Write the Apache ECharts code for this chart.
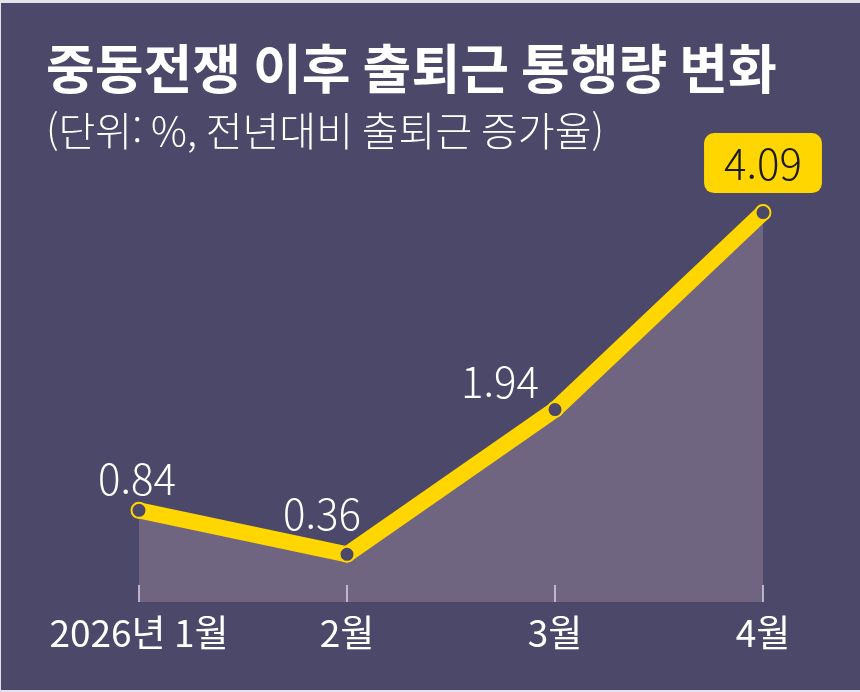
<!DOCTYPE html>
<html lang="ko">
<head>
    <meta charset="UTF-8">
    <title>중동전쟁 이후 출퇴근 통행량 변화</title>
    <style>
        html, body { margin: 0; padding: 0; background: #e4e3ea; }
        .box {
            position: absolute;
            top: 3px;
            left: 1px;
            width: 859px;
            height: 687px;
            background-color: #4b4869;
        }
    </style>
</head>
<body>
<div class="box" id="box"></div>
<script src="https://cdn.jsdelivr.net/npm/echarts@6/dist/echarts.min.js"></script>
<script>
    var months = ['2026년 1월', '2월', '3월', '4월'];
    var rates = [0.84, 0.36, 1.94, 4.09];
    // label nudges per point (x, y) so the numbers sit where the original puts them
    var labelOffsets = [[-2, 4], [-25, -5], [-55, 8], [0, 0]];

    var yellow = '#ffd600';
    var bg = '#4b4869';
    var kr = '"Noto Sans CJK KR", "Noto Sans", sans-serif';

    var mychart = echarts.init(document.getElementById('box'));

    var points = rates.map(function (v, i) {
        var last = i === rates.length - 1;
        return {
            value: v,
            label: last ? {
                color: '#1a1a1a',
                backgroundColor: yellow,
                borderRadius: 10,
                padding: [10, 20, 8, 20],
                distance: 11
            } : {
                offset: labelOffsets[i]
            }
        };
    });

    var option = {
        backgroundColor: bg,
        animation: false,
        title: [{
            text: '중동전쟁 이후 출퇴근 통행량 변화',
            left: 40,
            top: 34,
            textStyle: {
                fontFamily: kr,
                fontSize: 53,
                fontWeight: 'bold',
                color: '#ffffff'
            }
        }, {
            text: '(단위: %, 전년대비 출퇴근 증가율)',
            left: 40,
            top: 103,
            textStyle: {
                fontFamily: kr,
                fontSize: 40,
                fontWeight: 300,
                color: '#ffffff'
            }
        }],
        grid: {
            left: 138,
            right: 97,
            top: 172,
            bottom: 88,
            containLabel: false
        },
        xAxis: {
            type: 'category',
            data: months,
            boundaryGap: false,
            z: 5,
            axisLine: { show: false, onZero: false },
            axisTick: {
                show: true,
                inside: true,
                length: 17,
                interval: 0,
                lineStyle: { color: '#d9d3e6', width: 1.5 }
            },
            axisLabel: {
                interval: 0,
                hideOverlap: false,
                color: '#ffffff',
                fontFamily: kr,
                fontSize: 37,
                margin: 12
            },
            splitLine: { show: false }
        },
        yAxis: {
            type: 'value',
            min: -0.16,
            max: 4.5,
            show: false
        },
        series: [{
            type: 'line',
            data: points,
            symbol: 'circle',
            symbolSize: 15,
            z: 2,
            lineStyle: { color: yellow, width: 16, cap: 'round', join: 'round' },
            itemStyle: { color: bg, borderColor: yellow, borderWidth: 2 },
            areaStyle: { color: '#706580', opacity: 1, origin: 'start' },
            label: {
                show: true,
                position: 'top',
                distance: 6,
                fontFamily: kr,
                fontSize: 42,
                fontWeight: 300,
                color: '#ffffff'
            }
        }]
    };
    mychart.setOption(option);
    window.onresize = mychart.resize;
</script>
</body>
</html>
